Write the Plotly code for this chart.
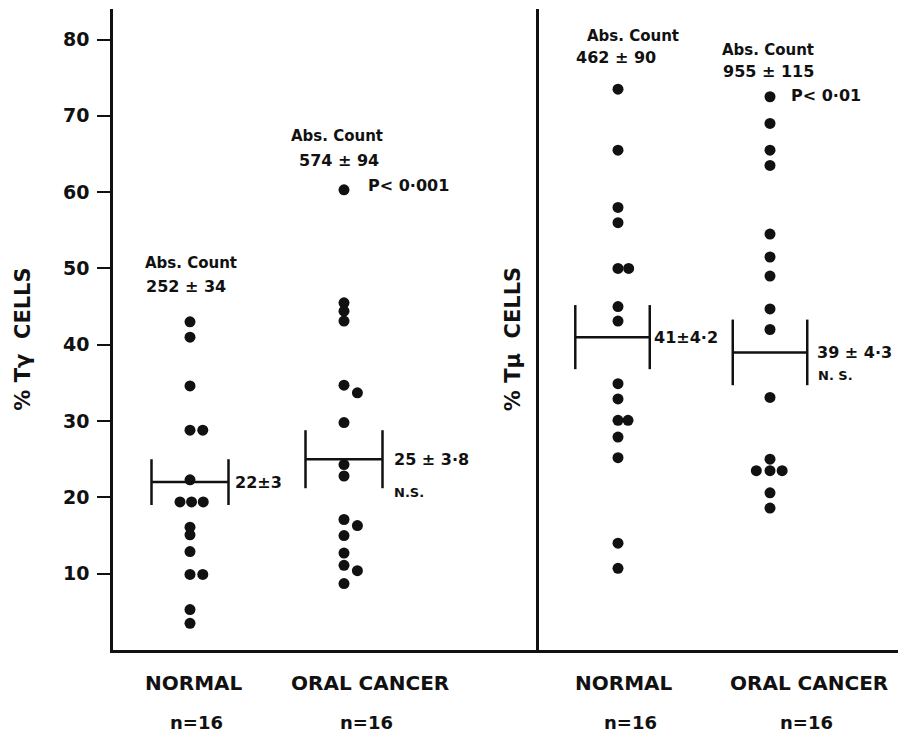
import plotly.graph_objects as go

# ---------------- data ----------------
groups = ["NORMAL", "ORAL CANCER"]
n_labels = ["n=16", "n=16"]
y_ticks = [10, 20, 30, 40, 50, 60, 70, 80]

tg_normal = [43.0, 41.0, 34.6, 28.8, 28.8, 22.3, 19.4, 19.4, 19.4, 16.1, 15.1, 12.9, 9.9, 9.9, 5.3, 3.5]
tg_cancer = [60.3, 45.5, 44.4, 43.1, 34.7, 33.7, 29.8, 24.3, 22.8, 17.1, 16.3, 15.0, 12.7, 11.1, 10.4, 8.7]
tm_normal = [73.5, 65.5, 58.0, 56.0, 50.0, 50.0, 45.0, 43.1, 34.9, 32.9, 30.1, 30.1, 27.9, 25.2, 14.0, 10.7]
tm_cancer = [72.5, 69.0, 65.5, 63.5, 54.5, 51.5, 49.0, 44.7, 42.0, 33.1, 25.0, 23.5, 23.5, 23.5, 20.6, 18.6]

tg_means = [22, 25]
tg_se = [3, 3.8]
tm_means = [41, 39]
tm_se = [4.2, 4.3]

tg_abs = ["252 ± 34", "574 ± 94"]
tm_abs = ["462 ± 90", "955 ± 115"]
tg_mean_text = ["22±3", "25 ± 3·8"]
tm_mean_text = ["41±4·2", "39 ± 4·3"]
tg_p = "P< 0·001"
tm_p = "P< 0·01"
ns_tg = "N.S."
ns_tm = "N. S."
abs_title = "Abs. Count"
ytitle_tg = "% Tγ  CELLS"
ytitle_tm = "% Tμ  CELLS"

# ---------------- layout helpers (positions, not data) ----------------
off_tg_normal = [0, 0, 0, 0, 0.083, 0, -0.065, 0.01, 0.086, 0, 0, 0, 0, 0.083, 0, 0]
off_tg_cancer = [0, 0, 0, 0, 0, 0.087, 0, 0, 0, 0, 0.087, 0, 0, 0, 0.087, 0]
off_tm_normal = [0, 0, 0, 0, 0, 0.07, 0, 0, 0, 0, 0, 0.066, 0, 0, 0, 0]
off_tm_cancer = [0, 0, 0, 0, 0, 0, 0, 0, 0, 0, 0, -0.09, 0, 0.08, 0, 0]

FONT = "DejaVu Sans"
BLACK = "#111111"

fig = go.Figure()


def add_dots(vals, offs, cat, xa, ya):
    fig.add_trace(go.Scatter(
        x=[cat + o for o in offs], y=vals, mode="markers",
        marker=dict(size=11, color=BLACK, line=dict(width=0)),
        xaxis=xa, yaxis=ya, showlegend=False, hoverinfo="y"))


def add_mean_bars(means, ses, bar_offs, xa, ya, hw=0.25):
    xs, ys = [], []
    for i, (m, s) in enumerate(zip(means, ses)):
        xc = i + 1 + bar_offs[i]
        xs += [xc - hw, xc + hw, None, xc - hw, xc - hw, None, xc + hw, xc + hw, None]
        ys += [m, m, None, m - s, m + s, None, m - s, m + s, None]
    fig.add_trace(go.Scatter(x=xs, y=ys, mode="lines",
                             line=dict(color=BLACK, width=2.5),
                             xaxis=xa, yaxis=ya, showlegend=False, hoverinfo="skip"))


add_dots(tg_normal, off_tg_normal, 1, "x", "y")
add_dots(tg_cancer, off_tg_cancer, 2, "x", "y")
add_dots(tm_normal, off_tm_normal, 1, "x2", "y2")
add_dots(tm_cancer, off_tm_cancer, 2, "x2", "y2")
add_mean_bars(tg_means, tg_se, [0, 0], "x", "y")
add_mean_bars(tm_means, tm_se, [-0.036, 0], "x2", "y2", hw=0.245)

ann = []


def txt(x, y, t, xref, yref, size=15, xanchor="center", yanchor="middle", angle=0):
    ann.append(dict(x=x, y=y, text=t, xref=xref, yref=yref, showarrow=False,
                    xanchor=xanchor, yanchor=yanchor, textangle=angle,
                    font=dict(family=FONT, size=size, color=BLACK, weight="bold")))


# Abs. Count headers
txt(1.006, 50.7, abs_title, "x", "y")
txt(0.974, 47.6, tg_abs[0], "x", "y", size=16)
txt(1.955, 67.4, abs_title, "x", "y")
txt(1.968, 64.2, tg_abs[1], "x", "y", size=16)
txt(2.143, 60.9, tg_p, "x", "y", size=16, xanchor="left")

txt(1.10, 80.5, abs_title, "x2", "y2")
txt(0.99, 77.6, tm_abs[0], "x2", "y2", size=16)
txt(1.987, 78.6, abs_title, "x2", "y2")
txt(1.987, 75.8, tm_abs[1], "x2", "y2", size=16)
txt(2.125, 72.6, tm_p, "x2", "y2", size=16, xanchor="left")

# mean labels
txt(1.28, tg_means[0], tg_mean_text[0], "x", "y", size=16, xanchor="left")
txt(2.31, tg_means[1], tg_mean_text[1], "x", "y", size=16, xanchor="left")
txt(2.31, 20.7, ns_tg, "x", "y", size=13, xanchor="left")
txt(1.224, tm_means[0], tm_mean_text[0], "x2", "y2", size=16, xanchor="left")
txt(2.296, tm_means[1], tm_mean_text[1], "x2", "y2", size=16, xanchor="left")
txt(2.30, 36.0, ns_tm, "x2", "y2", size=13, xanchor="left")

# category labels and n
cat_x_left = [1.026, 2.169]
cat_x_right = [1.039, 2.257]
n_x_left = [1.045, 2.149]
n_x_right = [1.079, 2.243]
for i in range(2):
    txt(cat_x_left[i], -0.051, groups[i], "x", "paper", size=20)
    txt(cat_x_right[i], -0.051, groups[i], "x2", "paper", size=20)
    txt(n_x_left[i], -0.113, n_labels[i], "x", "paper", size=18)
    txt(n_x_right[i], -0.113, n_labels[i], "x2", "paper", size=18)

# y titles
txt(-0.114, 0.485, ytitle_tg, "paper", "paper", size=21, angle=-90)
txt(0.5096, 0.485, ytitle_tm, "paper", "paper", size=21, angle=-90)

split = 426 / 785
axis_common = dict(showgrid=False, zeroline=False, showline=True,
                   linecolor=BLACK, linewidth=2.5, fixedrange=True)

# page body has an 8px default margin, so the figure is 8px smaller each way
fig.update_layout(
    width=911, height=731,
    margin=dict(l=105, r=21, t=1, b=89),
    paper_bgcolor="white", plot_bgcolor="white",
    showlegend=False,
    annotations=ann,
    xaxis=dict(domain=[0, split], range=[0.5, 3.2662], showticklabels=False,
               ticks="", anchor="y", **axis_common),
    xaxis2=dict(domain=[split, 1], range=[0.4803, 2.8421], showticklabels=False,
                ticks="", anchor="y2", **axis_common),
    yaxis=dict(range=[0, 84.0], tickvals=y_ticks, ticktext=[str(v) for v in y_ticks],
               ticks="outside", ticklen=13, tickwidth=2.2, tickcolor=BLACK,
               ticklabelstandoff=4,
               tickfont=dict(family=FONT, size=19, color=BLACK, weight="bold"),
               anchor="x", **axis_common),
    yaxis2=dict(range=[0, 84.0], showticklabels=False, ticks="",
                anchor="x2", **axis_common),
)

fig.write_html("out.html")
